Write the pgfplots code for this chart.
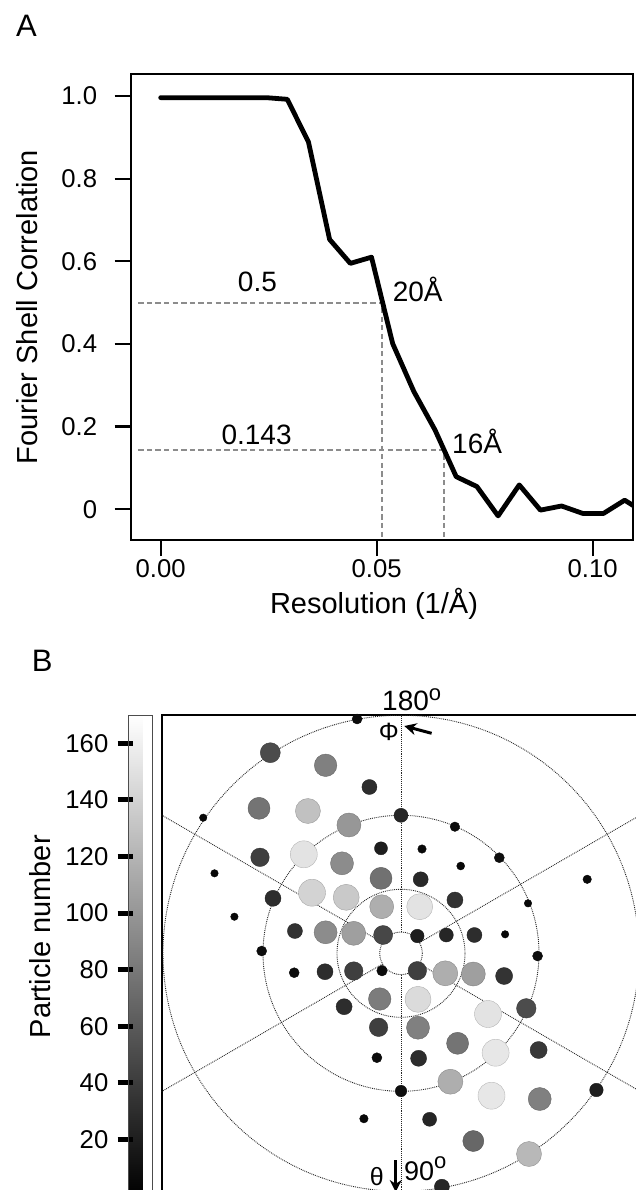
\documentclass[border=0pt]{standalone}
\usepackage{fontspec}
\setmainfont{Liberation Sans}
\usepackage{pgfplots}
\usepackage{pgfplotstable}
\pgfplotsset{compat=1.18}
\usetikzlibrary{arrows.meta}

\newcommand\tickfont{\fontsize{25.7}{30}\selectfont}
\newcommand\labfont{\fontsize{29}{34}\selectfont}
\newcommand\annfont{\fontsize{28}{32}\selectfont}

% FSC curve
\pgfplotstableread{
x y
0.0000 0.996
0.0049 0.996
0.0098 0.996
0.0146 0.996
0.0195 0.996
0.0244 0.996
0.0293 0.992
0.0342 0.889
0.0391 0.653
0.0439 0.595
0.0488 0.610
0.0537 0.401
0.0586 0.285
0.0635 0.192
0.0684 0.079
0.0732 0.055
0.0781 -0.016
0.0830 0.059
0.0879 -0.002
0.0928 0.008
0.0977 -0.010
0.1025 -0.010
0.1074 0.022
0.1123 -0.010
}\fsc

% angular distribution: x y (pt from centre), n = particle number, d = dot diameter
\pgfplotstableread{
x y n d
-43.9 234.3 8 10
-130.7 200.6 50 20
-75.4 188.0 85 22.5
-31.6 166.3 30 15
-142.0 145.0 77 22
-93.1 142.3 128 25
-52.1 128.3 100 24
0.0 138.0 25 14
-197.8 135.6 5 7.5
53.9 126.6 8 9.5
-141.0 96.0 42 18.5
-97.2 99.0 150 27
-59.0 90.0 93 23
-20.0 105.0 20 13
21.0 104.3 6 8.5
98.3 95.6 9 10
59.7 87.3 5 8
-20.0 75.0 75 22
19.7 74.0 27 15
186.2 74.0 6 8.5
-186.5 80.0 5 7.5
-128.0 55.0 30 16
-89.0 60.6 140 27
-54.8 56.0 133 26
-19.3 46.6 115 24
18.7 46.6 150 26
53.9 53.3 34 16
127.0 50.0 5 7.5
-166.6 36.6 5 7.5
-106.1 22.3 33 15
-75.4 21.0 93 23
-47.3 20.0 105 24
-17.9 18.3 47 19
16.3 17.3 20 13.5
45.3 18.3 25 14
73.4 18.3 30 15
104.1 19.0 5 7.5
-139.3 2.3 8 10
136.6 -2.7 8 10
-106.8 -19.4 8 10
-76.0 -18.4 30 16
-47.3 -17.7 42 18.5
-19.0 -17.4 8 10.5
16.3 -17.4 42 18.5
44.3 -20.0 115 25
72.3 -20.7 105 24
103.1 -22.7 34 17
-56.9 -53.4 30 16
-21.3 -45.7 82 22.5
17.0 -46.0 145 26
87.0 -60.7 150 27
125.3 -55.0 50 19.5
-22.4 -74.0 42 18.5
17.0 -74.4 85 23
56.6 -90.0 77 22
94.6 -99.4 153 27
137.6 -96.7 37 17
-24.1 -104.4 8 10
17.6 -105.0 30 16
49.4 -128.4 115 25
90.5 -142.4 153 27
138.7 -145.7 85 23
0.0 -137.7 10 11.5
195.4 -136.7 20 13.5
-37.1 -165.4 5 8.5
28.6 -166.0 25 14
72.3 -187.7 68 21
128.0 -200.7 122 25
40.9 -233.4 25 15
}\dotsB

\begin{document}
\begin{tikzpicture}
\useasboundingbox (0,0) rectangle (636pt,-1190pt);
\clip (0,0) rectangle (636pt,-1190pt);

%%%%% A
\node[anchor=base west, inner sep=0] at (16pt,-37pt) {\fontsize{31}{31}\selectfont A};
\begin{axis}[
    at={(130.7pt,-74.3pt)}, anchor=north west,
    scale only axis, width=502pt, height=465.7pt,
    xmin=-0.00694, xmax=0.10926, ymin=-0.0743, ymax=1.0525,
    axis line style={line width=2.3pt},
    tick pos=left, tick align=outside,
    major tick length=16pt,
    major tick style={line width=2.3pt, black},
    xtick={0,0.05,0.1}, xticklabels={0.00,0.05,0.10},
    ytick={0,0.2,0.4,0.6,0.8,1.0}, yticklabels={0,0.2,0.4,0.6,0.8,1.0},
    ticklabel style={font=\tickfont},
    yticklabel style={xshift=-14pt},
    xlabel={Resolution (1/Å)},
    ylabel={Fourier Shell Correlation},
    label style={font=\labfont},
    xlabel style={at={(axis description cs:0.4847,0)}, anchor=base, yshift=-73pt},
    ylabel style={at={(axis description cs:-0.2058,0.5)}, anchor=center},
]
\addplot[black!45, line width=2pt, dash pattern=on 5.3pt off 3.3pt]
    coordinates {(-0.0052,0.5) (0.0513,0.5) (0.0513,-0.0743)};
\addplot[black!45, line width=2pt, dash pattern=on 5.3pt off 3.3pt]
    coordinates {(-0.0052,0.143) (0.0655,0.143) (0.0655,-0.0743)};
\addplot[black, line width=4.8pt, line join=round, line cap=round] table {\fsc};
\node[anchor=base, inner sep=0, font=\annfont] at (axis cs:0.0224,0.5265) {0.5};
\node[anchor=base west, inner sep=0, font=\annfont] at (axis cs:0.05368,0.5023) {20Å};
\node[anchor=base, inner sep=0, font=\annfont] at (axis cs:0.0222,0.1556) {0.143};
\node[anchor=base west, inner sep=0, font=\annfont] at (axis cs:0.06743,0.1355) {16Å};
\end{axis}

%%%%% B
\node[anchor=base west, inner sep=0] at (31.7pt,-671.6pt) {\fontsize{31}{31}\selectfont B};
\begin{axis}[
    at={(161.5pt,-715pt)}, anchor=north west,
    x=1pt, y=1pt,
    xmin=-239.5, xmax=320, ymin=-320, ymax=238.3,
    axis line style={line width=2pt},
    xtick=\empty, ytick=\empty,
    colormap/blackwhite,
    point meta min=0, point meta max=170,
    colorbar left,
    colorbar style={
        at={([xshift=-8.2pt]parent axis.north west)}, anchor=north east,
        width=24.4pt, height=481pt,
        ytick={20,40,60,80,100,120,140,160},
        yticklabels={\tickfont 20,\tickfont 40,\tickfont 60,\tickfont 80,
            \tickfont 100,\tickfont 120,\tickfont 140,\tickfont 160},
        ytick pos=left, yticklabel pos=left,
        tick align=outside,
        major tick length=15.4pt,
        major tick style={line width=5pt, black, xshift=4.4pt},
        yticklabel style={anchor=east, xshift=-1.3pt},
        axis line style={line width=1pt, black!70},
        ylabel={Particle number},
        ylabel style={font=\labfont, at={(axis description cs:-3.61,0.539)}, anchor=center},
    },
]
\draw[black!85, line width=0.9pt, densely dotted] (axis cs:0,0) circle[radius=21.3];
\draw[black!85, line width=0.9pt, densely dotted] (axis cs:0,0) circle[radius=64];
\draw[black!85, line width=0.9pt, densely dotted] (axis cs:0,0) circle[radius=138];
\draw[black!85, line width=0.9pt, densely dotted] (axis cs:0,0) circle[radius=238];
\draw[black!85, line width=0.9pt, densely dotted] (axis cs:0,21.3) -- (axis cs:0,700);
\draw[black!85, line width=0.9pt, densely dotted] (axis cs:0,-21.3) -- (axis cs:0,-700);
\draw[black!85, line width=0.9pt, densely dotted] (axis cs:18.45,10.65) -- (axis cs:606,350);
\draw[black!85, line width=0.9pt, densely dotted] (axis cs:-18.45,10.65) -- (axis cs:-606,350);
\draw[black!85, line width=0.9pt, densely dotted] (axis cs:-18.45,-10.65) -- (axis cs:-606,-350);
\draw[black!85, line width=0.9pt, densely dotted] (axis cs:18.45,-10.65) -- (axis cs:606,-350);
\addplot[scatter, only marks, mark=*, scatter src=explicit,
    visualization depends on={\thisrow{d}/2 \as \rad},
    scatter/@pre marker code/.append style={/tikz/mark size=\rad}]
    table[x=x, y=y, meta=n] {\dotsB};
\end{axis}

\node[anchor=base west, inner sep=0] at (382pt,-710pt)
    {\fontsize{28}{30}\selectfont 180\raisebox{10pt}{\fontsize{22}{22}\selectfont o}};
\node[anchor=base east, inner sep=0] at (399pt,-740pt) {\fontsize{25}{25}\selectfont Φ};
\draw[line width=3pt, -{Stealth[length=12pt,width=12pt]}] (431.6pt,-733.3pt) -- (404.3pt,-726pt);
\node[anchor=base east, inner sep=0] at (384pt,-1185pt) {\fontsize{25}{25}\selectfont θ};
\draw[line width=2.5pt, -{Stealth[length=12pt,width=12pt]}] (395.7pt,-1160pt) -- (395.7pt,-1192pt);
\node[anchor=base west, inner sep=0] at (404pt,-1180pt)
    {\fontsize{27}{30}\selectfont 90\raisebox{12pt}{\fontsize{22}{22}\selectfont o}};
\end{tikzpicture}
\end{document}
